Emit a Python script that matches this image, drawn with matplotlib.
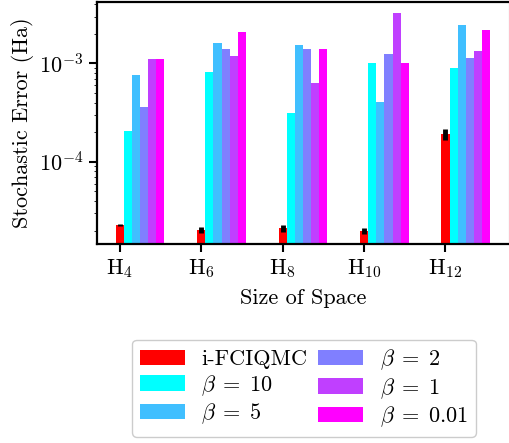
import matplotlib
matplotlib.use('Agg')
import matplotlib.pyplot as plt
import numpy as np

plt.rcParams['font.family'] = 'serif'
plt.rcParams['font.serif'] = ['cmr10']
plt.rcParams['mathtext.fontset'] = 'cm'
plt.rcParams['axes.formatter.use_mathtext'] = True
plt.rcParams['axes.unicode_minus'] = False
plt.rcParams['font.size'] = 16

systems = [r'$\mathrm{H}_{4}$', r'$\mathrm{H}_{6}$', r'$\mathrm{H}_{8}$',
           r'$\mathrm{H}_{10}$', r'$\mathrm{H}_{12}$']
labels = ['i-FCIQMC', r'$\beta\;=\;10$', r'$\beta\;=\;5$', r'$\beta\;=\;2$',
          r'$\beta\;=\;1$', r'$\beta\;=\;0.01$']

ifciqmc = [2.26e-5, 2.02e-5, 2.10e-5, 1.98e-5, 1.93e-4]
ifciqmc_err = [0.6e-6, 1.5e-6, 1.5e-6, 1.2e-6, 2.5e-5]
beta10 = [2.07e-4, 8.1e-4, 3.14e-4, 1.0e-3, 8.9e-4]
beta5 = [7.7e-4, 1.6e-3, 1.56e-3, 4.09e-4, 2.44e-3]
beta2 = [3.64e-4, 1.39e-3, 1.42e-3, 1.24e-3, 1.15e-3]
beta1 = [1.1e-3, 1.18e-3, 6.4e-4, 3.24e-3, 1.33e-3]
beta001 = [1.1e-3, 2.07e-3, 1.42e-3, 1.0e-3, 2.17e-3]

series = [ifciqmc, beta10, beta5, beta2, beta1, beta001]
colors = ['red'] + [plt.cm.cool(v) for v in np.linspace(0, 1, 5)]

fig = plt.figure(figsize=(5.10, 4.43), dpi=100)
ax = fig.add_axes([0.190, 0.449, 0.808, 0.546])

x = np.arange(len(systems))
w = 0.1
for i, (vals, c, lab) in enumerate(zip(series, colors, labels)):
    if i == 0:
        ax.bar(x + i*w, vals, w, color=c, label=lab, yerr=ifciqmc_err,
               ecolor='black', error_kw=dict(elinewidth=3.5, capsize=0))
    else:
        ax.bar(x + i*w, vals, w, color=c, label=lab)

ax.set_yscale('log')
ax.set_ylim(1.455e-5, 4.2e-3)
ax.set_xticks(x)
ax.set_xticklabels(systems)
ax.set_xlabel('Size of Space', labelpad=6)
ax.set_ylabel('Stochastic Error (Ha)')
for s in ['left', 'bottom', 'top']:
    ax.spines[s].set_linewidth(1.6)
ax.spines['right'].set_color('#999999')
ax.tick_params(which='major', width=1.5, length=6)

fig.legend(loc='upper center', bbox_to_anchor=(0.596, 0.233), ncol=2,
           handlelength=2.0, handleheight=0.7, columnspacing=0.5,
           handletextpad=0.75, labelspacing=0.17, borderaxespad=0,
           borderpad=0.35, fancybox=True, edgecolor='#cccccc', framealpha=1)

fig.savefig('out.png', dpi=100)
